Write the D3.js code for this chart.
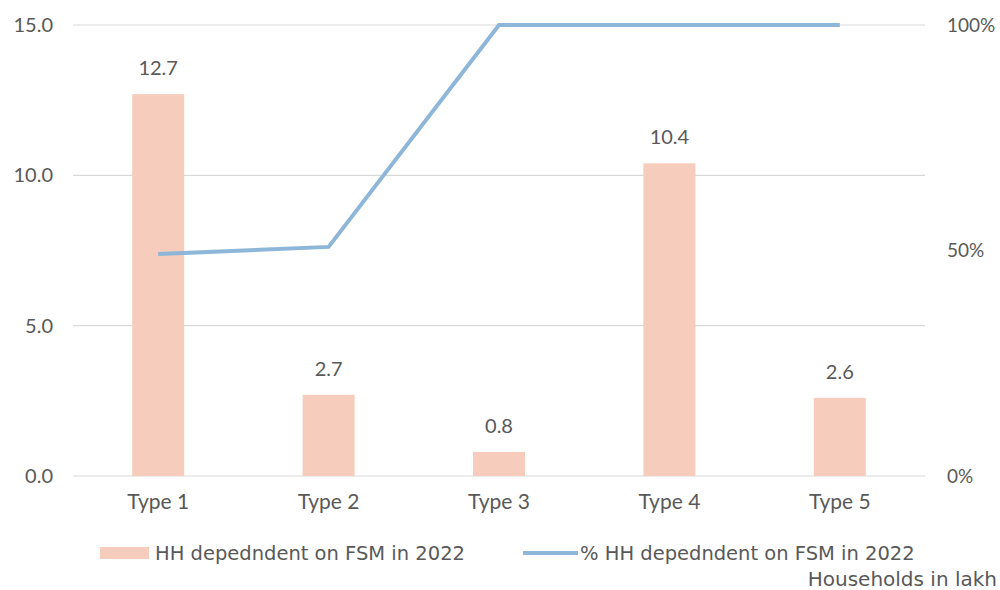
<!DOCTYPE html>
<html>
<head>
<meta charset="utf-8">
<script src="https://cdn.jsdelivr.net/npm/d3@7"></script>
<style>
  body { margin: 0; background: #fff; }
  svg text { font-family: Lato, "Open Sans", sans-serif; fill: #595959; }
  svg text.wide { font-family: "DejaVu Sans", sans-serif; }
</style>
</head>
<body>
<div id="chart"></div>
<script>
const categories = ["Type 1", "Type 2", "Type 3", "Type 4", "Type 5"];
const hhValues   = [12.7, 2.7, 0.8, 10.4, 2.6];
const pctValues  = [0.492, 0.508, 1.0, 1.0, 1.0];
const leftTicks  = [0, 5, 10, 15];
const rightTicks = [0, 0.5, 1];

const width  = 1000;
const height = 590;
const margin = { top: 25, left: 73, right: 75, bottom: 114 };

const svg = d3.select("#chart")
  .append("svg")
  .attr("width", width)
  .attr("height", height);

const x = d3.scaleBand()
  .domain(categories)
  .range([margin.left, width - margin.right])
  .paddingInner(0.695)
  .paddingOuter(0.3475);

const y = d3.scaleLinear()
  .domain([0, 15])
  .range([height - margin.bottom, margin.top]);

const y2 = d3.scaleLinear()
  .domain([0, 1])
  .range([height - margin.bottom, margin.top]);

// gridlines
svg.append("g")
  .selectAll("line")
  .data(leftTicks)
  .join("line")
  .attr("x1", margin.left)
  .attr("x2", width - margin.right)
  .attr("y1", d => y(d))
  .attr("y2", d => y(d))
  .attr("stroke", "#d9d9d9")
  .attr("stroke-width", 1.2);

// left axis
const leftAxis = svg.append("g")
  .attr("transform", `translate(${margin.left - 20},0)`)
  .call(d3.axisLeft(y).tickValues(leftTicks).tickFormat(d3.format(".1f")).tickSize(0));
leftAxis.select(".domain").remove();
leftAxis.selectAll("text").style("font-size", "20px").attr("x", 0);

// right axis
const rightAxis = svg.append("g")
  .attr("transform", `translate(${width - margin.right + 22},0)`)
  .call(d3.axisRight(y2).tickValues(rightTicks).tickFormat(d3.format(".0%")).tickSize(0));
rightAxis.select(".domain").remove();
rightAxis.selectAll("text").style("font-size", "19px").attr("x", 0);

// category axis
const bottomAxis = svg.append("g")
  .attr("transform", `translate(0,${height - margin.bottom})`)
  .call(d3.axisBottom(x).tickSize(0));
bottomAxis.select(".domain").remove();
bottomAxis.selectAll("text").style("font-size", "21px").attr("dy", "1.45em");

// bars
svg.append("g")
  .selectAll("rect")
  .data(hhValues)
  .join("rect")
  .attr("x", (d, i) => x(categories[i]))
  .attr("y", d => y(d))
  .attr("width", x.bandwidth())
  .attr("height", d => y(0) - y(d))
  .attr("fill", "#f6ccbd");

// bar labels
svg.append("g")
  .selectAll("text")
  .data(hhValues)
  .join("text")
  .attr("x", (d, i) => x(categories[i]) + x.bandwidth() / 2)
  .attr("y", d => y(d) - 19)
  .attr("text-anchor", "middle")
  .style("font-size", "20px")
  .text(d => d.toFixed(1));

// line
const line = d3.line()
  .x((d, i) => x(categories[i]) + x.bandwidth() / 2)
  .y(d => y2(d));

svg.append("path")
  .datum(pctValues)
  .attr("d", line)
  .attr("fill", "none")
  .attr("stroke", "#8eb6d8")
  .attr("stroke-width", 4);

// legend
const legend = svg.append("g").attr("transform", "translate(0,553)");
legend.append("rect")
  .attr("x", 100).attr("y", -6)
  .attr("width", 49).attr("height", 12)
  .attr("fill", "#f6ccbd");
legend.append("text")
  .attr("class", "wide")
  .attr("x", 155).attr("y", 0).attr("dy", "0.35em")
  .style("font-size", "19.5px")
  .text("HH depedndent on FSM in 2022");
legend.append("line")
  .attr("x1", 523).attr("x2", 578)
  .attr("y1", 0).attr("y2", 0)
  .attr("stroke", "#8eb6d8").attr("stroke-width", 4);
legend.append("text")
  .attr("class", "wide")
  .attr("x", 580).attr("y", 0).attr("dy", "0.35em")
  .style("font-size", "19.5px")
  .text("% HH depedndent on FSM in 2022");

svg.append("text")
  .attr("class", "wide")
  .attr("x", 997).attr("y", 579).attr("dy", "0.35em")
  .attr("text-anchor", "end")
  .style("font-size", "20px")
  .text("Households in lakh");
</script>
</body>
</html>
